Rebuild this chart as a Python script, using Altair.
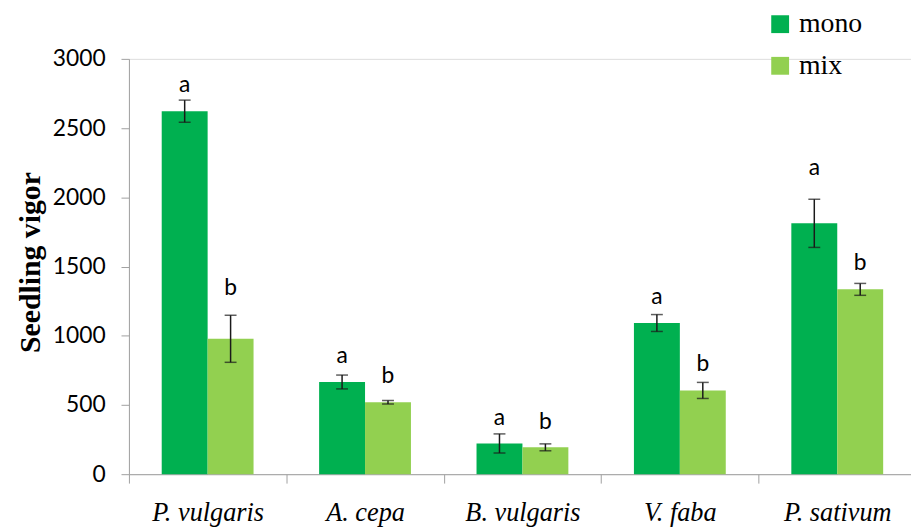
import altair as alt
import pandas as pd

species = ["P. vulgaris", "A. cepa", "B. vulgaris", "V. faba", "P. sativum"]
groups = ["mono", "mix"]
mono_mean = [2622, 666, 222, 1092, 1812]
mono_err = [80, 50, 69, 61, 174]
mix_mean = [978, 520, 194, 605, 1335]
mix_err = [170, 13, 25, 58, 43]
mono_letter = ["a", "a", "a", "a", "a"]
mix_letter = ["b", "b", "b", "b", "b"]
mono_letter_y = [2759, 802, 358, 1229, 2164]
mix_letter_y = [1296, 659, 329, 742, 1475]
y_ticks = [0, 500, 1000, 1500, 2000, 2500, 3000]
colors = ["#00B050", "#92D050"]

rows = []
for i, s in enumerate(species):
    rows.append(dict(species=s, group="mono", value=mono_mean[i],
                     lo=mono_mean[i] - mono_err[i], hi=mono_mean[i] + mono_err[i],
                     letter=mono_letter[i], ly=mono_letter_y[i]))
    rows.append(dict(species=s, group="mix", value=mix_mean[i],
                     lo=mix_mean[i] - mix_err[i], hi=mix_mean[i] + mix_err[i],
                     letter=mix_letter[i], ly=mix_letter_y[i]))
df = pd.DataFrame(rows)

x_enc = alt.X("species:N", sort=species,
              scale=alt.Scale(paddingInner=0, paddingOuter=0),
              axis=alt.Axis(title=None, labelAngle=0, tickBand="extent",
                            tickSize=9, tickColor="#a0a0a0", domainColor="#a0a0a0",
                            labelFont="Liberation Serif", labelFontStyle="italic",
                            labelFontSize=26.5, labelColor="black",
                            labelBaseline="alphabetic", labelPadding=38))
xo_enc = alt.XOffset("group:N", sort=groups,
                     scale=alt.Scale(paddingInner=0, paddingOuter=0.714))
y_scale = alt.Scale(domain=[0, 3000], nice=False)
y_axis = alt.Axis(values=y_ticks, format="d", grid=False, tickSize=8,
                  tickColor="#a0a0a0", domainColor="#a0a0a0", labelFont="Lato",
                  labelFontSize=23, labelColor="black", labelPadding=16,
                  title="Seedling vigor", titleFont="Liberation Serif",
                  titleFontWeight="bold", titleFontSize=30, titleColor="black",
                  titleAngle=270, titleX=-99, titleY=205, titleAlign="center",
                  titleBaseline="middle")

base = alt.Chart(df)

bars = base.mark_bar().encode(
    x=x_enc, xOffset=xo_enc,
    y=alt.Y("value:Q", scale=y_scale, axis=y_axis),
    color=alt.Color("group:N", sort=groups,
                    scale=alt.Scale(domain=groups, range=colors),
                    legend=alt.Legend(title=None, orient="none", legendX=643,
                                      legendY=-49, symbolType="square",
                                      symbolSize=324, symbolStrokeWidth=0,
                                      labelFont="Liberation Serif", labelFontSize=28,
                                      labelColor="black", labelOffset=5,
                                      rowPadding=14, padding=0)),
)

rules = base.mark_rule(color="#1a1a1a", strokeWidth=1.5).encode(
    x=x_enc, xOffset=xo_enc, y=alt.Y("lo:Q"), y2="hi:Q")
caps_hi = base.mark_tick(color="#1a1a1a", thickness=1.5, size=12).encode(
    x=x_enc, xOffset=xo_enc, y=alt.Y("hi:Q"))
caps_lo = base.mark_tick(color="#1a1a1a", thickness=1.5, size=12).encode(
    x=x_enc, xOffset=xo_enc, y=alt.Y("lo:Q"))
letters = base.mark_text(font="Lato", fontSize=23, color="black",
                         baseline="alphabetic", align="center").encode(
    x=x_enc, xOffset=xo_enc, y=alt.Y("ly:Q"), text="letter:N")

chart = alt.layer(bars, rules, caps_hi, caps_lo, letters).properties(
    width=794, height=419,
    autosize=alt.AutoSizeParams(type="none"),
    padding={"left": 122, "top": 49, "right": -5, "bottom": 55},
).configure_view(stroke=None).configure(background="white")

chart.save("out.html", embed_options={"renderer": "svg", "actions": False})
